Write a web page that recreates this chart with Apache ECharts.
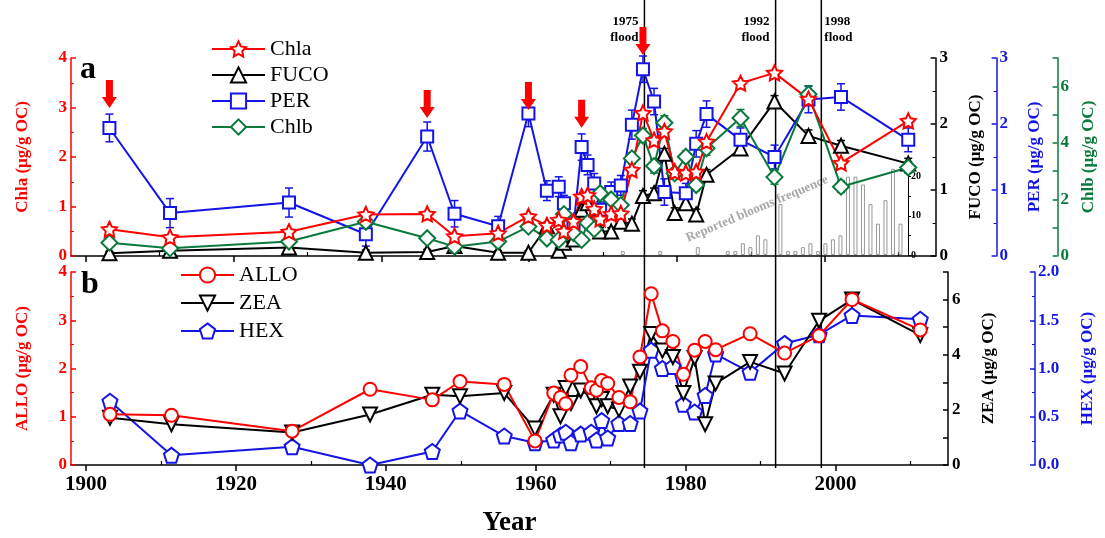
<!DOCTYPE html>
<html><head><meta charset="utf-8">
<script src="https://cdn.jsdelivr.net/npm/echarts@6/dist/echarts.min.js"></script>
<style>html,body{margin:0;padding:0;background:#fff;}#c{width:1105px;height:538px;}</style>
</head><body><div id="c"></div>
<script>
// ---------- Panel a data ----------
const yearsA = [1903.2,1911.4,1927.5,1937.9,1946.2,1949.9,1955.8,1959.9,1962.4,1964.0,1964.7,1966.0,1967.1,1967.9,1968.8,1969.6,1971.1,1972.4,1973.9,1975.4,1976.9,1978.3,1979.7,1981.2,1982.6,1984.0,1988.6,1993.2,1997.8,2002.2,2011.3];
const chla = [0.54,0.38,0.49,0.84,0.85,0.40,0.46,0.80,0.62,0.73,0.50,0.70,1.20,1.23,0.95,0.75,0.85,0.86,1.74,2.89,2.34,2.52,1.70,1.68,1.70,2.31,3.49,3.70,3.17,1.88,2.73];
const fuco = [0.04,0.08,0.13,0.05,0.06,0.15,0.05,0.05,0.45,0.08,0.20,0.25,0.70,0.80,0.55,0.37,0.37,0.52,0.49,0.91,0.95,1.55,0.65,0.80,0.63,1.23,1.63,2.34,1.82,1.67,1.40];
const fucoErr = [0.03,0.04,0.05,0.04,0.04,0.05,0.03,0.03,0.06,0.04,0.05,0.05,0.07,0.07,0.06,0.06,0.06,0.07,0.07,0.08,0.08,0.08,0.08,0.08,0.08,0.08,0.09,0.09,0.09,0.08,0.08];
const per = [1.94,0.65,0.81,0.33,1.81,0.64,0.45,2.16,0.99,1.05,0.80,0.44,1.65,1.38,1.10,0.70,0.97,1.07,1.99,2.83,2.34,0.97,null,0.95,1.70,2.15,1.76,1.50,2.37,2.41,1.76];
const perErr = [0.21,0.22,0.22,0.18,0.22,0.2,0.15,0.2,0.15,0.15,0.12,0.12,0.2,0.15,0.15,0.12,0.15,0.15,0.22,0.2,0.2,0.2,0,0.15,0.2,0.2,0.18,0.18,0.2,0.2,0.18];
const chlb = [0.47,0.27,0.51,1.21,0.63,0.33,0.51,1.04,0.62,0.57,1.48,0.81,0.57,1.17,0.95,2.22,2.00,1.80,3.45,4.26,3.18,4.71,2.92,3.51,2.51,3.81,4.88,2.79,5.72,2.45,3.13];
const chlbErr = [0,0,0,0,0,0,0,0,0,0,0,0,0,0,0,0,0,0,0.2,0.25,0.25,0.25,0.2,0.2,0.2,0.25,0.3,0.25,0.3,0.2,0.2];
// red arrows (year, Chla-axis value of arrow tip)
const arrowYears = [1903.2,1946.2,1959.9,1967.1,1975.4];
const arrowTips = [2.99,2.79,2.95,2.59,4.06];
// ---------- Panel b data ----------
const yearsB = [1903.2,1911.4,1927.5,1937.9,1946.2,1949.9,1955.8,1959.9,1962.4,1963.3,1964.0,1964.7,1966.0,1967.4,1968.1,1968.8,1969.6,1971.1,1972.6,1973.9,1975.4,1976.9,1978.3,1979.7,1981.2,1982.6,1984.0,1988.6,1993.2,1997.8,2002.2,2011.3];
const allo = [1.05,1.03,0.70,1.57,1.35,1.73,1.67,0.50,1.49,1.40,1.27,1.86,2.04,1.60,1.55,1.75,1.69,1.40,1.31,2.24,3.55,2.78,2.56,1.88,2.38,2.56,2.39,2.72,2.32,2.68,3.43,2.80];
const zea = [1.71,1.48,1.18,1.83,2.55,2.49,2.61,1.32,2.55,1.77,2.79,2.25,2.70,2.49,2.13,2.39,2.13,2.01,2.85,3.38,4.75,4.15,3.92,2.61,3.88,1.48,2.96,3.74,3.32,5.23,6.00,4.71];
const hex = [0.66,0.10,0.19,0.00,0.14,0.56,0.30,0.23,0.26,0.31,0.34,0.23,0.32,0.34,0.26,0.46,0.28,0.43,0.43,0.56,1.19,1.00,1.02,0.63,0.55,0.72,1.15,0.96,1.26,1.35,1.55,1.51];
// ---------- Inset: reported blooms frequence ----------
const bloomYears = [1972,1977,1982,1986,1987,1988,1989,1990,1991,1993,1994,1995,1996,1997,1998,1999,2000,2001,2002,2003,2004,2005,2006,2007,2008,2009];
const bloomFreq  = [1,1,2,1,1,3,2,5,4,13,1,1,2,3,1,3,4,5,20,20,18,13,8,14,22,8];
// ---------- Floods ----------
const floodYears = [1974.5,1992.0,1998.1];
const floodLabels = ['1975\nflood','1992\nflood','1998\nflood'];
const xTickYears = [1900,1920,1940,1960,1980,2000];
const xMinorYears = [1910,1930,1950,1970,1990,2010];

const RED='#ff0000', BLK='#000000', BLUE='#1414e6', GRN='#0a7a3c', GRAY='#a8a8a8';
const FONT='Liberation Serif';
const STAR='path://M50,0 L64.7,29.8 L97.6,34.5 L73.8,57.7 L79.4,90.5 L50,75 L20.6,90.5 L26.2,57.7 L2.4,34.5 L35.3,29.8 Z';
const PENT='path://M50,0 L97.6,34.5 L79.4,90.5 L20.6,90.5 L2.4,34.5 Z';
const TRIDOWN='path://M0,0 L100,0 L50,86 Z';

const zip=(xs,ys)=>xs.map((x,i)=>[x,ys[i]]);
const zip3=(xs,ys,es)=>xs.map((x,i)=>[x,ys[i],es[i]]);

function lineSeries(name,xs,ys,xi,yi,color,symbol,size){
  return {type:'line',name,data:zip(xs,ys),xAxisIndex:xi,yAxisIndex:yi,
    symbol,symbolSize:size,connectNulls:true,clip:false,
    lineStyle:{color,width:2},itemStyle:{color:'#fff',borderColor:color,borderWidth:2},
    emphasis:{disabled:true},z:5};
}
function errSeries(xs,ys,es,xi,yi,color){
  return {type:'custom',xAxisIndex:xi,yAxisIndex:yi,data:zip3(xs,ys,es),clip:false,z:3,
    encode:{x:0,y:1},silent:true,
    renderItem:(p,api)=>{
      const x=api.value(0),y=api.value(1),e=api.value(2);
      if(!e||isNaN(y)) return null;
      const t=api.coord([x,y+e]),b=api.coord([x,y-e]),c=4;
      const st={stroke:color,lineWidth:1.5};
      return {type:'group',children:[
        {type:'line',shape:{x1:t[0],y1:t[1],x2:b[0],y2:b[1]},style:st},
        {type:'line',shape:{x1:t[0]-c,y1:t[1],x2:t[0]+c,y2:t[1]},style:st},
        {type:'line',shape:{x1:b[0]-c,y1:b[1],x2:b[0]+c,y2:b[1]},style:st}]};
    }};
}
function yAx(o){
  const c=o.color;
  const base={type:'value',splitLine:{show:false},
    axisLine:{show:true,onZero:false,lineStyle:{color:c,width:1.5}},
    axisTick:{show:true,inside:!!o.inside,length:5,lineStyle:{color:c,width:1.5}},
    minorTick:{show:true,splitNumber:2,length:3,lineStyle:{color:c,width:1}},
    axisLabel:{color:c,fontFamily:FONT,fontWeight:'bold',fontSize:17,margin:o.inside?4:3,formatter:o.fmt||(v=>String(v))},
    nameLocation:'middle',nameRotate:90,
    nameTextStyle:{color:c,fontFamily:FONT,fontWeight:'bold',fontSize:17}};
  return Object.assign(base,o.extra);
}
const evenOnly=v=>(v%2===0?String(v):'');

const chart=echarts.init(document.getElementById('c'),null,{renderer:'canvas'});
const option={
  animation:false,backgroundColor:'#fff',
  grid:[
    {left:71,top:58,width:877,height:198},
    {left:71,top:272,width:877,height:196},
    {left:610,top:161,width:298,height:94},
    {left:71,top:0,width:877,height:468}
  ],
  xAxis:[
    {gridIndex:0,type:'value',min:1898,max:2015,splitLine:{show:false},
      axisLine:{onZero:false,lineStyle:{color:BLK,width:1.5}},
      axisTick:{customValues:xTickYears,length:6,lineStyle:{color:BLK,width:1.5}},axisLabel:{show:false}},
    {gridIndex:1,type:'value',min:1898,max:2015,splitLine:{show:false},
      axisLine:{onZero:false,lineStyle:{color:BLK,width:1.5}},
      axisTick:{customValues:xTickYears,length:6,lineStyle:{color:BLK,width:1.5}},
      axisLabel:{customValues:xTickYears,formatter:v=>String(v),color:BLK,fontFamily:FONT,fontWeight:'bold',fontSize:21,margin:9},
      name:'Year',nameLocation:'middle',nameGap:45,
      nameTextStyle:{color:BLK,fontFamily:FONT,fontWeight:'bold',fontSize:27}},
    {gridIndex:2,type:'value',min:1970.3,max:2010,show:false},
    {gridIndex:3,type:'value',min:1898,max:2015,show:false},
    {gridIndex:0,type:'value',min:1898,max:2015,splitLine:{show:false},axisLine:{show:false},
      axisTick:{customValues:xMinorYears,length:4,lineStyle:{color:BLK,width:1.2}},axisLabel:{show:false}},
    {gridIndex:1,type:'value',min:1898,max:2015,splitLine:{show:false},axisLine:{show:false},
      axisTick:{customValues:xMinorYears,length:4,lineStyle:{color:BLK,width:1.2}},axisLabel:{show:false}}
  ],
  yAxis:[
    yAx({color:RED,inside:true,extra:{gridIndex:0,position:'left',min:0,max:4,interval:1,name:'Chla (μg/g OC)',nameGap:40}}),
    yAx({color:BLK,inside:true,extra:{gridIndex:0,position:'right',min:0,max:3,interval:1,name:'FUCO (μg/g OC)',nameGap:32}}),
    yAx({color:BLUE,extra:{gridIndex:0,position:'right',offset:61,min:0,max:3,interval:1,name:'PER (μg/g OC)',nameGap:30,
      axisTick:{show:true,inside:true,length:5,lineStyle:{color:BLUE,width:1.5}}}}),
    yAx({color:GRN,fmt:evenOnly,extra:{gridIndex:0,position:'right',offset:122,min:0,max:7,interval:1,name:'Chlb (μg/g OC)',nameGap:18,
      axisTick:{show:true,inside:true,length:5,lineStyle:{color:GRN,width:1.5}},minorTick:{show:false}}}),
    yAx({color:RED,inside:true,extra:{gridIndex:1,position:'left',min:0,max:4,interval:1,name:'ALLO (μg/g OC)',nameGap:40}}),
    yAx({color:BLK,inside:true,fmt:evenOnly,extra:{gridIndex:1,position:'right',min:0,max:7,interval:1,name:'ZEA (μg/g OC)',nameGap:32,
      minorTick:{show:false}}}),
    yAx({color:BLUE,fmt:v=>v.toFixed(1),extra:{gridIndex:1,position:'right',offset:87,min:0,max:2,interval:0.5,name:'HEX (μg/g OC)',nameGap:44,
      axisTick:{show:true,inside:true,length:5,lineStyle:{color:BLUE,width:1.5}}}}),
    {gridIndex:2,type:'value',position:'right',min:0,max:24,splitLine:{show:false},
      axisLine:{show:true,lineStyle:{color:BLK,width:1}},
      axisTick:{customValues:[0,5,10,15,20],length:3,lineStyle:{color:BLK}},
      axisLabel:{customValues:[0,10,20],color:BLK,fontFamily:FONT,fontWeight:'bold',fontSize:10,margin:3}},
    {gridIndex:3,type:'value',min:0,max:1,show:false}
  ],
  legend:[
    {data:['Chla','FUCO','PER','Chlb'],orient:'vertical',left:206,top:33,itemWidth:53,itemHeight:19,itemGap:4,
      textStyle:{color:BLK,fontFamily:FONT,fontSize:22},selectedMode:false},
    {data:['ALLO','ZEA','HEX'],orient:'vertical',left:175,top:259,itemWidth:53,itemHeight:19,itemGap:6,
      textStyle:{color:BLK,fontFamily:FONT,fontSize:22},selectedMode:false}
  ],
  graphic:[
    {type:'text',left:80,top:54,style:{text:'a',font:'bold 32px "Liberation Serif"',fill:BLK}},
    {type:'text',left:81,top:269,style:{text:'b',font:'bold 32px "Liberation Serif"',fill:BLK}},
    {type:'text',x:757,y:209,rotation:0.40,style:{text:'Reported blooms frequence',font:'bold 13px "Liberation Serif"',
      fill:GRAY,align:'center',verticalAlign:'middle'}}
  ],
  series:[
    {type:'bar',name:'blooms',xAxisIndex:2,yAxisIndex:7,data:zip(bloomYears,bloomFreq),barWidth:4,silent:true,
      itemStyle:{color:'rgba(0,0,0,0)',borderColor:'#999',borderWidth:1},z:1},
    {type:'custom',xAxisIndex:3,yAxisIndex:8,data:floodYears.map((y,i)=>[y,i]),clip:false,silent:true,z:2,
      encode:{x:0},
      renderItem:(p,api)=>{
        const x=api.value(0),i=api.value(1);
        const t=api.coord([x,1]),b=api.coord([x,0]);
        const right=(i===2);
        return {type:'group',children:[
          {type:'line',shape:{x1:t[0],y1:t[1],x2:b[0],y2:b[1]},style:{stroke:BLK,lineWidth:1.5}},
          {type:'text',x:right?t[0]+3:t[0]-6,y:14,style:{text:floodLabels[i],font:'bold 13px "Liberation Serif"',
            fill:BLK,align:right?'left':'right',verticalAlign:'top',lineHeight:16}}]};
      }},
    errSeries(yearsA,per,perErr,0,2,BLUE),
    errSeries(yearsA,fuco,fucoErr,0,1,BLK),
    errSeries(yearsA,chlb,chlbErr,0,3,GRN),
    lineSeries('FUCO',yearsA,fuco,0,1,BLK,'triangle',14),
    lineSeries('PER',yearsA,per,0,2,BLUE,'rect',12),
    lineSeries('Chlb',yearsA,chlb,0,3,GRN,'diamond',16),
    lineSeries('Chla',yearsA,chla,0,0,RED,STAR,15),
    lineSeries('HEX',yearsB,hex,1,6,BLUE,PENT,15),
    lineSeries('ZEA',yearsB,zea,1,5,BLK,TRIDOWN,14),
    lineSeries('ALLO',yearsB,allo,1,4,RED,'circle',13),
    {type:'custom',xAxisIndex:0,yAxisIndex:0,data:zip(arrowYears,arrowTips),clip:false,silent:true,z:6,
      encode:{x:0,y:1},
      renderItem:(p,api)=>{
        const c=api.coord([api.value(0),api.value(1)]);
        const x=c[0],y=c[1];
        return {type:'polygon',shape:{points:[[x-3.5,y-28],[x+3.5,y-28],[x+3.5,y-11],[x+7.5,y-11],[x,y],[x-7.5,y-11],[x-3.5,y-11]]},
          style:{fill:RED}};
      }}
  ]
};
chart.setOption(option);
</script></body></html>
